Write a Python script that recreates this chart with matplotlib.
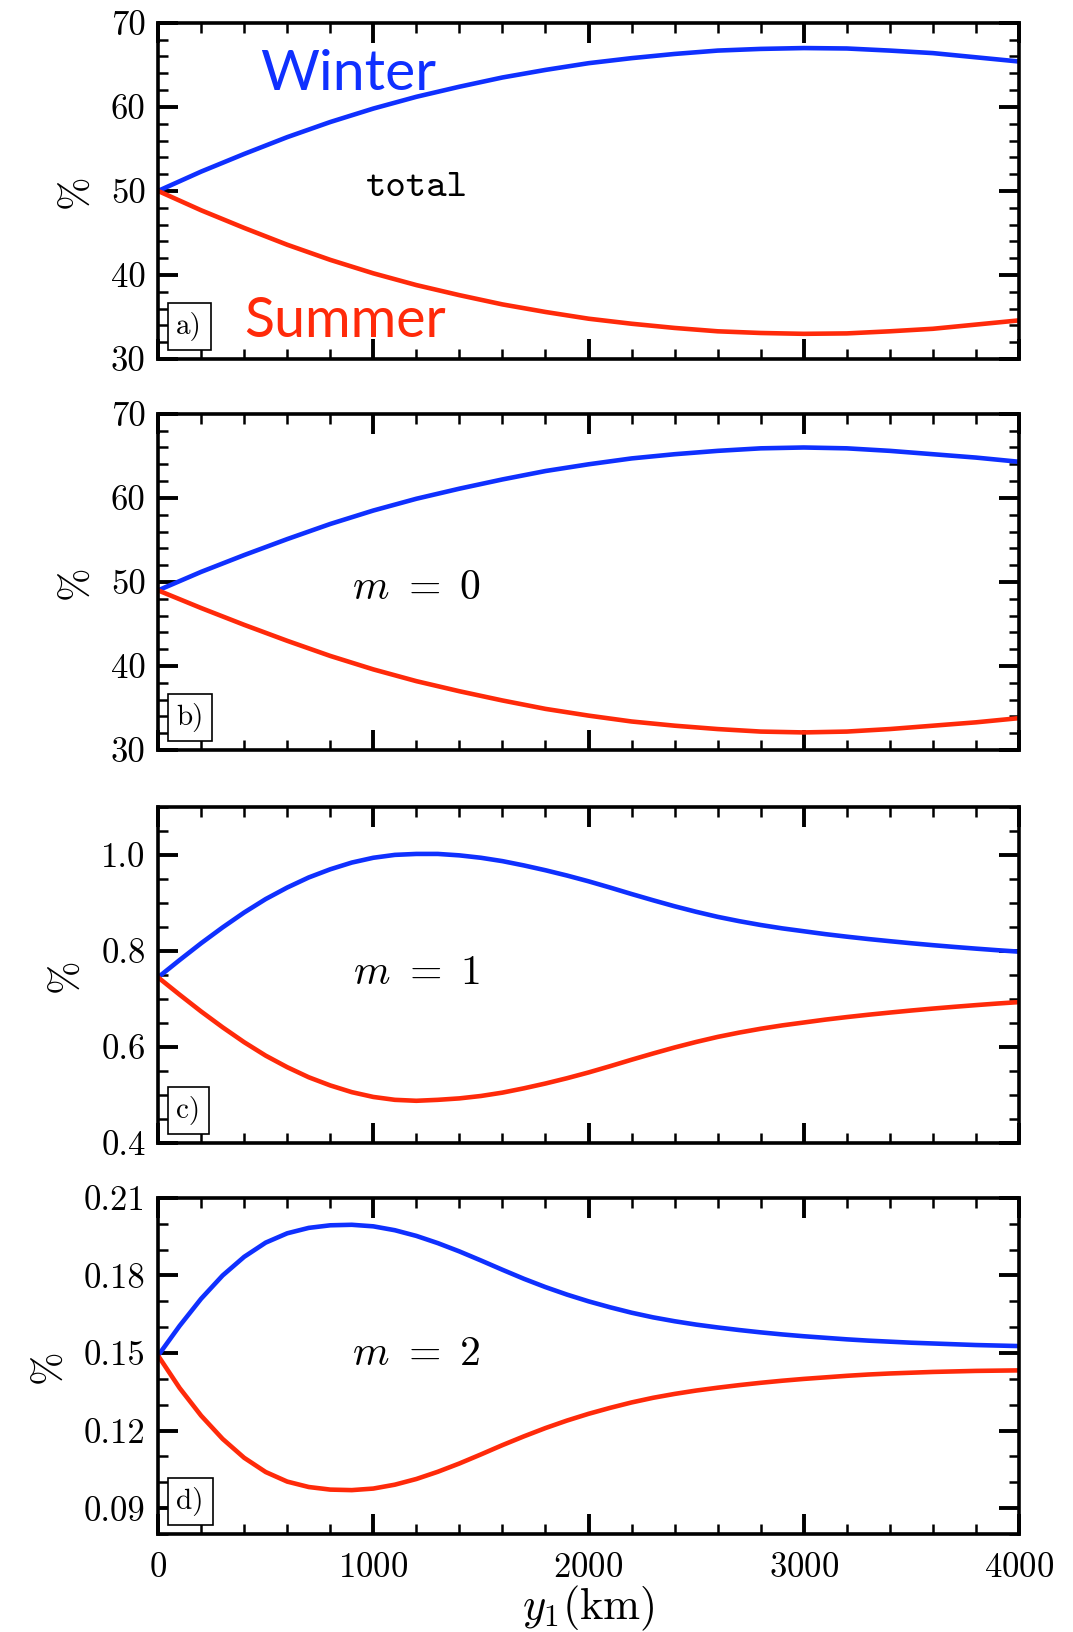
import numpy as np
import matplotlib
matplotlib.use("Agg")
import matplotlib.pyplot as plt
from matplotlib.ticker import MultipleLocator, FormatStrFormatter

plt.rcParams["font.family"] = ["cmr10", "DejaVu Serif"]
plt.rcParams["mathtext.fontset"] = "cm"
plt.rcParams["axes.formatter.use_mathtext"] = True

BLUE = "#0f30ff"
RED = "#ff2a0a"

# distance from the boundary (km)
y1_coarse = np.arange(0, 4001, 200)
y1_fine = np.arange(0, 4001, 100)

# a) total
winter_total = [50.0, 52.3, 54.4, 56.4, 58.2, 59.8, 61.2, 62.4, 63.5, 64.4, 65.2,
                65.8, 66.3, 66.7, 66.9, 67.0, 66.95, 66.7, 66.4, 65.9, 65.4]
summer_total = [50.0, 47.7, 45.6, 43.6, 41.8, 40.2, 38.8, 37.6, 36.5, 35.6, 34.8,
                34.2, 33.7, 33.3, 33.1, 33.0, 33.05, 33.3, 33.6, 34.1, 34.6]

# b) m = 0
winter_m0 = [49.0, 51.2, 53.2, 55.1, 56.9, 58.5, 59.9, 61.1, 62.2, 63.2, 64.0,
             64.7, 65.2, 65.6, 65.9, 66.0, 65.9, 65.6, 65.2, 64.8, 64.3]
summer_m0 = [49.0, 46.9, 44.9, 43.0, 41.2, 39.6, 38.2, 37.0, 35.9, 34.9, 34.1,
             33.4, 32.9, 32.5, 32.2, 32.1, 32.2, 32.5, 32.9, 33.3, 33.8]

# c) m = 1
winter_m1 = [0.745, 0.781, 0.816, 0.849, 0.880, 0.908, 0.932, 0.953, 0.970, 0.984,
             0.994, 1.000, 1.002, 1.002, 0.999, 0.994, 0.987, 0.978, 0.968, 0.957,
             0.945, 0.932, 0.9185, 0.9055, 0.893, 0.8815, 0.871, 0.862, 0.854, 0.847,
             0.841, 0.835, 0.8297, 0.8248, 0.8203, 0.816, 0.812, 0.8083, 0.8048, 0.8015,
             0.7985]
summer_m1 = [0.745, 0.709, 0.674, 0.641, 0.610, 0.582, 0.558, 0.537, 0.520, 0.506,
             0.496, 0.490, 0.488, 0.490, 0.493, 0.498, 0.505, 0.514, 0.524, 0.535,
             0.547, 0.560, 0.5735, 0.5865, 0.599, 0.6105, 0.621, 0.630, 0.638, 0.645,
             0.651, 0.657, 0.6623, 0.6672, 0.6717, 0.676, 0.680, 0.6837, 0.6872, 0.6905,
             0.6935]

# d) m = 2
winter_m2 = [0.1490, 0.1605, 0.1710, 0.1800, 0.1872, 0.1927, 0.1963, 0.1984, 0.1994,
             0.1996, 0.1990, 0.1975, 0.1953, 0.1925, 0.1893, 0.1858, 0.1822, 0.1787,
             0.1755, 0.1726, 0.1700, 0.1677, 0.1656, 0.1638, 0.1623, 0.1610, 0.1599,
             0.1589, 0.1580, 0.1572, 0.1565, 0.1559, 0.1553, 0.1548, 0.1544, 0.1540,
             0.1537, 0.1534, 0.1531, 0.1529, 0.1527]
summer_m2 = [0.1490, 0.1365, 0.1258, 0.1168, 0.1095, 0.1040, 0.1003, 0.0982, 0.0972,
             0.0970, 0.0976, 0.0991, 0.1013, 0.1041, 0.1073, 0.1108, 0.1144, 0.1178,
             0.1210, 0.1239, 0.1265, 0.1288, 0.1309, 0.1327, 0.1342, 0.1355, 0.1366,
             0.1376, 0.1385, 0.1393, 0.1400, 0.1406, 0.1412, 0.1417, 0.1421, 0.1424,
             0.1427, 0.1429, 0.1431, 0.1432, 0.1433]

panels = [
    # x, winter, summer, ylim, major, minor, fmt, tag, note, note_y
    (y1_coarse, winter_total, summer_total, (30, 70), 10, 2, "%d", "a)", "total", 50.3),
    (y1_coarse, winter_m0, summer_m0, (30, 70), 10, 2, "%d", "b)", r"$m\ =\ 0$", 49.2),
    (y1_fine, winter_m1, summer_m1, (0.4, 1.1), 0.2, 0.05, "%.1f", "c)", r"$m\ =\ 1$", 0.754),
    (y1_fine, winter_m2, summer_m2, (0.08, 0.21), 0.03, 0.01, "%.2f", "d)", r"$m\ =\ 2$", 0.1495),
]

fig = plt.figure(figsize=(10.73, 16.32), dpi=100)
bottoms = [0.780, 0.5404, 0.2996, 0.0600]
for i, (x, w, s, ylim, maj, mnr, fmt, tag, note, ny) in enumerate(panels):
    ax = fig.add_axes([0.1473, bottoms[i], 0.8024, 0.2060])
    ax.plot(x, w, color=BLUE, lw=3.3, solid_capstyle="butt", solid_joinstyle="round")
    ax.plot(x, s, color=RED, lw=3.3, solid_capstyle="butt", solid_joinstyle="round")
    ax.set_xlim(0, 4000)
    ax.set_ylim(*ylim)
    ax.xaxis.set_major_locator(MultipleLocator(1000))
    ax.xaxis.set_minor_locator(MultipleLocator(200))
    ax.yaxis.set_major_locator(MultipleLocator(maj))
    ax.yaxis.set_minor_locator(MultipleLocator(mnr))
    ax.yaxis.set_major_formatter(FormatStrFormatter(fmt))
    ax.tick_params(which="both", direction="in", top=True, right=True,
                   labelsize=25, color="black")
    ax.tick_params(axis="y", pad=9)
    ax.tick_params(axis="x", pad=13)
    ax.tick_params(which="major", length=14.5, width=2.8)
    ax.tick_params(which="minor", length=7, width=1.8)
    for sp in ax.spines.values():
        sp.set_linewidth(2.6)
    if i < 3:
        ax.tick_params(labelbottom=False)
    ax.set_ylabel("%", fontsize=29, labelpad=12)
    ax.text(0.0212, 0.0535, tag, transform=ax.transAxes, fontsize=21,
            ha="left", va="bottom",
            bbox=dict(boxstyle="square,pad=0.3", fc="white", ec="black", lw=1.2))
    if i == 0:
        ax.text(1200, ny, note, fontsize=28, family="cmtt10", ha="center", va="center")
        ax.text(474, 63.9, "Winter", color=BLUE, fontsize=41,
                family="Lato", ha="left", va="center")
        ax.text(400, 34.5, "Summer", color=RED, fontsize=40,
                family="Lato", ha="left", va="center")
    else:
        ax.text(1200, ny, note, fontsize=30, ha="center", va="center")

ax.set_xlabel(r"$y_1$(km)", fontsize=32, labelpad=0)

fig.savefig("out.png", dpi=100)
